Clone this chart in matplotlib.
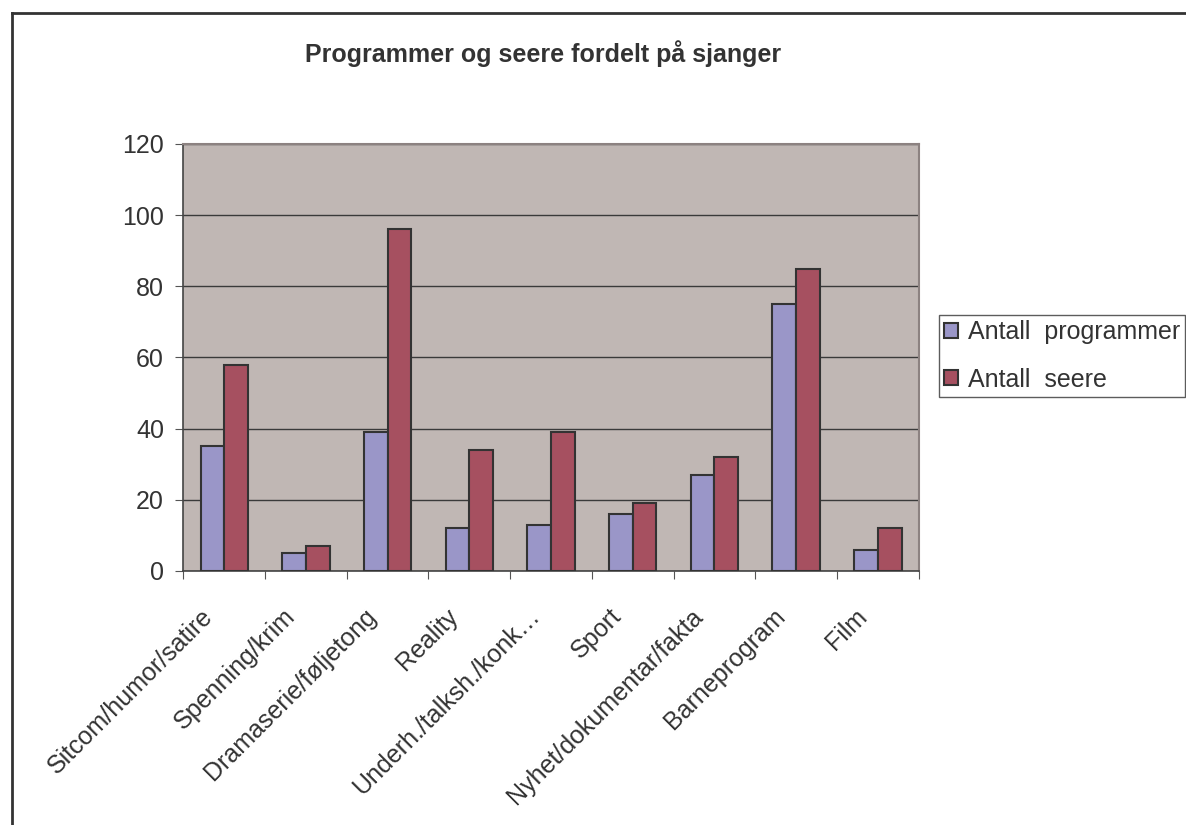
import matplotlib.pyplot as plt
import numpy as np
from matplotlib.lines import Line2D
from matplotlib.transforms import ScaledTranslation

plt.rcParams["font.family"] = ["Liberation Sans", "DejaVu Sans"]

# genres and values
genres = [
    "Sitcom/humor/satire",
    "Spenning/krim",
    "Dramaserie/føljetong",
    "Reality",
    "Underh./talksh./konk…",
    "Sport",
    "Nyhet/dokumentar/fakta",
    "Barneprogram",
    "Film",
]
antall_programmer = [35, 5, 39, 12, 13, 16, 27, 75, 6]
antall_seere = [58, 7, 96, 34, 39, 19, 32, 85, 12]
series_names = ["Antall  programmer", "Antall  seere"]
y_ticks = [0, 20, 40, 60, 80, 100, 120]

text_col = "#333333"
edge_col = "#333333"

fig = plt.figure(figsize=(11.86, 8.25), dpi=100)
ax = fig.add_axes([0.1546, 0.3079, 0.62, 0.5176])
ax.set_facecolor("#C0B7B4")

x = np.arange(len(genres))
w = 0.29
ax.bar(x - w / 2, antall_programmer, w, color="#9A96C8", edgecolor=edge_col,
       linewidth=1.5, label=series_names[0], zorder=3)
ax.bar(x + w / 2, antall_seere, w, color="#A65060", edgecolor=edge_col,
       linewidth=1.5, label=series_names[1], zorder=3)

ax.set_xlim(-0.5, len(genres) - 0.5)
ax.set_ylim(0, 120)
ax.set_yticks(y_ticks)
ax.yaxis.grid(True, color="#3a3a3a", linewidth=1, zorder=1)

# ticks at category boundaries, labels at centers
ax.set_xticks(np.arange(len(genres) + 1) - 0.5)
ax.set_xticklabels([])
ax.set_xticks(x, minor=True)
ax.set_xticklabels(genres, minor=True, rotation=45, ha="right", va="center",
                   rotation_mode="anchor", fontsize=18, color=text_col)
ax.tick_params(axis="x", which="minor", length=0, pad=30)
ax.tick_params(axis="x", which="major", length=6, color="#555555", direction="out")
ax.tick_params(axis="y", length=6, color="#555555", labelsize=18,
               labelcolor=text_col, pad=8)
shift = ScaledTranslation(-15 / 100, 0, fig.dpi_scale_trans)
for lab in ax.get_xticklabels(minor=True):
    lab.set_transform(lab.get_transform() + shift)

for side in ["top", "right"]:
    ax.spines[side].set_color("#8C8281")
    ax.spines[side].set_linewidth(1.5)
for side in ["left", "bottom"]:
    ax.spines[side].set_color("#444444")
    ax.spines[side].set_linewidth(1.2)

fig.text(543 / 1186, 1 - 54 / 825, "Programmer og seere fordelt på sjanger",
         ha="center", va="center", fontsize=18, fontweight="bold", color=text_col)

leg = fig.legend(loc="upper left", bbox_to_anchor=(939 / 1186, 1 - 315 / 825),
                 fontsize=18, frameon=True, fancybox=False, edgecolor=text_col,
                 handlelength=0.55, handleheight=0.55, handletextpad=0.4,
                 borderpad=0.2, labelspacing=0.95, borderaxespad=0)
leg.get_frame().set_linewidth(1)
for t in leg.get_texts():
    t.set_color(text_col)

# outer chart border (left and top edges visible)
fig.add_artist(Line2D([12 / 1186, 12 / 1186], [0, 1 - 13 / 825],
                      transform=fig.transFigure, color="#333333", linewidth=2))
fig.add_artist(Line2D([12 / 1186, 1], [1 - 13 / 825, 1 - 13 / 825],
                      transform=fig.transFigure, color="#333333", linewidth=2))

fig.savefig("out.png", dpi=100)
